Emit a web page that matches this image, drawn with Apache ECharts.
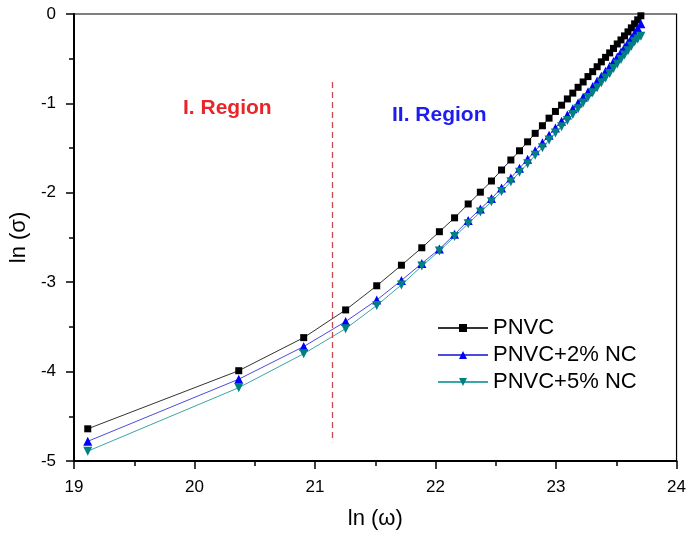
<!DOCTYPE html>
<html>
<head>
<meta charset="utf-8">
<script src="https://cdn.jsdelivr.net/npm/echarts@6/dist/echarts.min.js"></script>
<style>
html,body{margin:0;padding:0;background:#fff;}
#chart{width:689px;height:536px;}
</style>
</head>
<body>
<div id="chart"></div>
<script>
// ln(omega) values (x)
var lnOmega = [19.114, 20.367, 20.906, 21.254, 21.512, 21.717, 21.886, 22.032, 22.158, 22.271,
  22.372, 22.464, 22.548, 22.625, 22.697, 22.764, 22.827, 22.887, 22.942, 22.995,
  23.046, 23.094, 23.139, 23.183, 23.225, 23.265, 23.304, 23.341, 23.376, 23.411,
  23.445, 23.477, 23.508, 23.539, 23.568, 23.597, 23.625, 23.652, 23.678, 23.704];
// ln(sigma) values
var pnvc = [-4.64, -3.99, -3.62, -3.31, -3.04, -2.81, -2.615, -2.435, -2.28, -2.125,
  -1.993, -1.868, -1.745, -1.633, -1.53, -1.43, -1.335, -1.25, -1.165, -1.09,
  -1.02, -0.95, -0.885, -0.82, -0.76, -0.70, -0.645, -0.59, -0.535, -0.485,
  -0.435, -0.385, -0.335, -0.29, -0.245, -0.20, -0.155, -0.11, -0.065, -0.02];
var pnvc2 = [-4.78, -4.085, -3.72, -3.44, -3.20, -2.98, -2.79, -2.63, -2.465, -2.31,
  -2.18, -2.065, -1.945, -1.835, -1.725, -1.625, -1.53, -1.44, -1.355, -1.275,
  -1.20, -1.13, -1.06, -0.995, -0.93, -0.87, -0.81, -0.75, -0.695, -0.64,
  -0.585, -0.53, -0.48, -0.425, -0.375, -0.32, -0.27, -0.215, -0.16, -0.11];
var pnvc5 = [-4.89, -4.18, -3.80, -3.52, -3.26, -3.03, -2.82, -2.65, -2.49, -2.345,
  -2.215, -2.10, -1.985, -1.875, -1.77, -1.675, -1.58, -1.495, -1.41, -1.33,
  -1.26, -1.19, -1.125, -1.06, -0.995, -0.935, -0.88, -0.825, -0.77, -0.715,
  -0.665, -0.61, -0.56, -0.51, -0.46, -0.41, -0.36, -0.31, -0.28, -0.25];
var seriesNames = ['PNVC', 'PNVC+2% NC', 'PNVC+5% NC'];
var boundaryX = 21.14;
var boundaryY = [-0.76, -4.79];
var xTicks = [19, 20, 21, 22, 23, 24];
var yTicks = [-5, -4, -3, -2, -1, 0];

function pairs(xs, ys) { return xs.map(function (x, i) { return [x, ys[i]]; }); }

var font = '"Liberation Sans", Arial, sans-serif';
var chart = echarts.init(document.getElementById('chart'), null, {renderer: 'canvas'});
chart.setOption({
  animation: false,
  backgroundColor: '#fff',
  grid: {left: 72, right: 8, top: 14, bottom: 75, show: true, borderColor: '#000', borderWidth: 1.2},
  xAxis: {
    type: 'value', min: xTicks[0], max: xTicks[xTicks.length - 1], interval: 1,
    name: 'ln (ω)', nameLocation: 'middle', nameGap: 47,
    nameTextStyle: {fontFamily: font, fontSize: 22, color: '#000'},
    axisLine: {show: true, onZero: false, lineStyle: {color: '#000', width: 2}},
    axisTick: {show: true, inside: false, length: 8, lineStyle: {color: '#000', width: 1.5}},
    minorTick: {show: true, splitNumber: 2, length: 5, lineStyle: {color: '#000', width: 1.5}},
    splitLine: {show: false},
    axisLabel: {fontFamily: font, fontSize: 17, color: '#000', margin: 18}
  },
  yAxis: {
    type: 'value', min: yTicks[0], max: yTicks[yTicks.length - 1], interval: 1,
    name: 'ln (σ)', nameLocation: 'middle', nameGap: 40, nameRotate: 90,
    nameTextStyle: {fontFamily: font, fontSize: 22, color: '#000'},
    axisLine: {show: true, onZero: false, lineStyle: {color: '#000', width: 2}},
    axisTick: {show: true, inside: false, length: 8, lineStyle: {color: '#000', width: 1.5}},
    minorTick: {show: true, splitNumber: 2, length: 5, lineStyle: {color: '#000', width: 1.5}},
    splitLine: {show: false},
    axisLabel: {fontFamily: font, fontSize: 17, color: '#000', margin: 18}
  },
  legend: {
    orient: 'vertical', left: 432, top: 312, itemWidth: 50, itemHeight: 10, itemGap: 5,
    textStyle: {fontFamily: font, fontSize: 22, color: '#000'},
    data: seriesNames
  },
  graphic: [
    {type: 'text', left: 183, top: 98, style: {text: 'I. Region', fontFamily: font, fontSize: 21, fontWeight: 'bold', fill: '#e8262a'}},
    {type: 'text', left: 392, top: 105, style: {text: 'II. Region', fontFamily: font, fontSize: 21, fontWeight: 'bold', fill: '#1c1cf0'}}
  ],
  series: [
    {
      name: seriesNames[0], type: 'line', data: pairs(lnOmega, pnvc),
      symbol: 'rect', symbolSize: 7, color: '#000',
      lineStyle: {color: '#333', width: 1}, itemStyle: {color: '#000'},
      markLine: {
        silent: true, symbol: 'none', label: {show: false},
        lineStyle: {color: '#c9494c', type: [6, 4], width: 1.3},
        data: [[{coord: [boundaryX, boundaryY[0]]}, {coord: [boundaryX, boundaryY[1]]}]]
      }
    },
    {
      name: seriesNames[1], type: 'line', data: pairs(lnOmega, pnvc2),
      symbol: 'triangle', symbolSize: 9, color: '#0000ff',
      lineStyle: {color: '#4b4bdc', width: 1}, itemStyle: {color: '#0000ff'}
    },
    {
      name: seriesNames[2], type: 'line', data: pairs(lnOmega, pnvc5),
      symbol: 'triangle', symbolRotate: 180, symbolSize: 9, color: '#008080',
      lineStyle: {color: '#3ca5a5', width: 1}, itemStyle: {color: '#008080'}
    }
  ]
});
</script>
</body>
</html>
